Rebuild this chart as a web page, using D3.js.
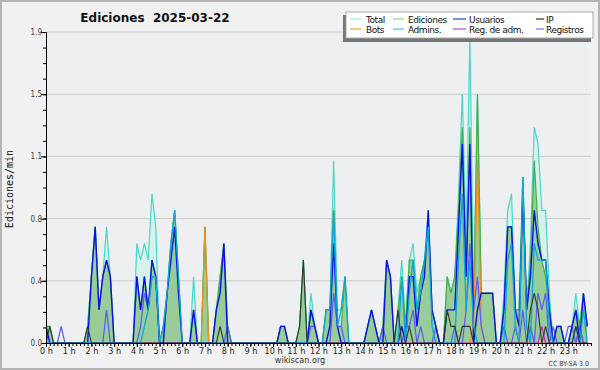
<!DOCTYPE html>
<html>
<head>
<meta charset="utf-8">
<script src="https://cdn.jsdelivr.net/npm/d3@7"></script>
<style>
  body { margin: 0; background: #f1f1f1; }
  svg { display: block; font-family: 'DejaVu Sans Condensed', 'DejaVu Sans', sans-serif; }
</style>
</head>
<body>
<div id="chart"></div>
<script>
// one value per 10 minute slot, edits per minute (6 per hour)
var hourLabels = d3.range(24).map(function (h) { return h + ' h' })
var yTickValues = [0, 0.375, 0.75, 1.125, 1.5, 1.875]
var yTickLabels = ['0.0', '0.4', '0.8', '1.1', '1.5', '1.9']

var total = [
  0.1, 0.1, 0, 0, 0, 0,   0, 0, 0, 0, 0, 0.1,   0.4, 0.7, 0.2, 0.4, 0.7, 0.4,   0, 0, 0, 0, 0, 0,
  0.6, 0.5, 0.6, 0.5, 0.9, 0.7,   0, 0.1, 0.3, 0.6, 0.8, 0.4,   0, 0, 0, 0.4, 0, 0,   0.7, 0, 0, 0.2, 0.4, 0.6,
  0.1, 0, 0, 0, 0, 0,   0, 0, 0, 0, 0, 0,   0, 0, 0.1, 0.1, 0, 0,   0, 0.1, 0.5, 0, 0.3, 0.1,
  0, 0, 0.2, 0.2, 1.1, 0.2,   0.2, 0.4, 0, 0, 0, 0,   0, 0.1, 0.2, 0.1, 0, 0.1,   0.5, 0.4, 0, 0.2, 0.5, 0.1,
  0.5, 0.6, 0.3, 0.4, 0.5, 0.8,   0.2, 0.1, 0, 0, 0.4, 0.3,   0.4, 0.9, 1.5, 0.6, 1.85, 0.2,   1.5, 0.3, 0.3, 0.3, 0.3, 0,
  0, 0.3, 0.8, 0.9, 0.2, 0.2,   1.0, 0.2, 0.6, 1.3, 1.2, 0.8,   0.8, 0.3, 0, 0.1, 0.1, 0,   0, 0.1, 0.3, 0.1, 0.3, 0.1
]
var ediciones = [
  0.1, 0.1, 0, 0, 0, 0,   0, 0, 0, 0, 0, 0.1,   0.4, 0.7, 0.2, 0.4, 0.5, 0.4,   0, 0, 0, 0, 0, 0,
  0.4, 0.2, 0.4, 0.2, 0.5, 0.4,   0, 0.1, 0.3, 0.6, 0.8, 0.4,   0, 0, 0, 0.2, 0, 0,   0.7, 0, 0, 0.2, 0.4, 0.6,
  0.1, 0, 0, 0, 0, 0,   0, 0, 0, 0, 0, 0,   0, 0, 0.1, 0.1, 0, 0,   0, 0.1, 0.5, 0, 0.2, 0.1,
  0, 0, 0.2, 0.2, 0.8, 0.1,   0.1, 0.4, 0, 0, 0, 0,   0, 0.1, 0.2, 0.1, 0, 0.1,   0.5, 0.4, 0, 0.2, 0.4, 0.1,
  0.5, 0.5, 0.2, 0.4, 0.5, 0.7,   0.2, 0.1, 0, 0, 0.4, 0.3,   0.4, 0.8, 1.3, 0.4, 1.3, 0.2,   1.5, 0.3, 0.3, 0.3, 0.3, 0,
  0, 0.2, 0.7, 0.7, 0.2, 0.2,   1.0, 0.2, 0.5, 1.1, 0.7, 0.5,   0.4, 0.2, 0, 0.1, 0.1, 0,   0, 0.1, 0.2, 0.1, 0.3, 0.1
]
var usuarios = [
  0.1, 0, 0, 0, 0, 0,   0, 0, 0, 0, 0, 0,   0.4, 0.7, 0.2, 0.4, 0.5, 0.4,   0, 0, 0, 0, 0, 0,
  0.4, 0.2, 0.4, 0.2, 0.5, 0.4,   0, 0, 0.3, 0.5, 0.7, 0.3,   0, 0, 0, 0.2, 0, 0,   0, 0, 0, 0.2, 0.3, 0.6,
  0, 0, 0, 0, 0, 0,   0, 0, 0, 0, 0, 0,   0, 0, 0.1, 0.1, 0, 0,   0, 0, 0, 0, 0.2, 0.1,
  0, 0, 0, 0.1, 0.6, 0.1,   0, 0, 0, 0, 0, 0,   0, 0.1, 0.2, 0.1, 0, 0,   0.5, 0.4, 0, 0, 0.1, 0,
  0.4, 0.4, 0.1, 0.3, 0.4, 0.8,   0.2, 0.1, 0, 0, 0.2, 0.2,   0.2, 0.7, 1.2, 0.4, 1.2, 0,   0.2, 0.3, 0.3, 0.3, 0.3, 0,
  0, 0.2, 0.7, 0.7, 0.2, 0.1,   0.9, 0.2, 0.4, 0.8, 0.6, 0.5,   0.5, 0.2, 0, 0.1, 0.1, 0,   0, 0.1, 0.2, 0, 0.3, 0.1
]
var ip = [
  0, 0.1, 0, 0, 0, 0,   0, 0, 0, 0, 0, 0.1,   0, 0, 0, 0, 0, 0,   0, 0, 0, 0, 0, 0,
  0, 0, 0, 0, 0, 0,   0, 0, 0, 0, 0, 0,   0, 0, 0, 0, 0, 0,   0, 0, 0, 0, 0.1, 0,
  0, 0, 0, 0, 0, 0,   0, 0, 0, 0, 0, 0,   0, 0, 0, 0, 0, 0,   0, 0.1, 0.5, 0, 0, 0,
  0, 0, 0, 0, 0, 0,   0, 0, 0, 0, 0, 0,   0, 0, 0, 0, 0, 0,   0, 0, 0, 0.2, 0, 0,
  0.1, 0, 0, 0, 0, 0,   0, 0, 0, 0, 0.2, 0.1,   0.1, 0, 0.1, 0.1, 0.1, 0,   0, 0, 0, 0, 0, 0,
  0, 0, 0, 0, 0, 0,   0, 0, 0.2, 0.3, 0.2, 0,   0.1, 0, 0, 0, 0, 0,   0, 0, 0.1, 0, 0, 0
]
var bots = [
  0, 0, 0, 0, 0, 0,   0, 0, 0, 0, 0, 0,   0, 0, 0, 0, 0, 0,   0, 0, 0, 0, 0, 0,
  0, 0, 0, 0, 0, 0,   0, 0, 0, 0, 0, 0,   0, 0, 0, 0, 0, 0,   0.7, 0, 0, 0, 0, 0,
  0, 0, 0, 0, 0, 0,   0, 0, 0, 0, 0, 0,   0, 0, 0, 0, 0, 0,   0, 0, 0, 0, 0, 0,
  0, 0, 0, 0, 0, 0,   0, 0, 0, 0, 0, 0,   0, 0, 0, 0, 0, 0,   0, 0, 0, 0, 0, 0,
  0, 0, 0, 0, 0, 0,   0, 0, 0, 0, 0, 0,   0, 0, 0, 0, 0, 0.1,   1.1, 0.1, 0, 0, 0, 0,
  0, 0, 0, 0, 0, 0,   0, 0, 0, 0, 0, 0,   0, 0, 0, 0, 0, 0,   0, 0, 0, 0, 0, 0
]
var admins = [
  0, 0, 0, 0, 0, 0,   0, 0, 0, 0, 0, 0,   0, 0, 0, 0, 0, 0,   0, 0, 0, 0, 0, 0,
  0, 0, 0.1, 0.2, 0.4, 0.4,   0, 0.1, 0.3, 0.6, 0.8, 0.4,   0, 0, 0, 0, 0, 0,   0, 0, 0, 0, 0, 0,
  0, 0, 0, 0, 0, 0,   0, 0, 0, 0, 0, 0,   0, 0, 0, 0, 0, 0,   0, 0, 0, 0, 0, 0,
  0, 0, 0.2, 0.2, 0.8, 0.1,   0.2, 0.4, 0, 0, 0, 0,   0, 0, 0, 0, 0, 0,   0, 0, 0, 0, 0.4, 0,
  0.3, 0.5, 0.2, 0.3, 0.5, 0.7,   0.1, 0, 0, 0, 0, 0,   0, 0.5, 0.9, 0.2, 0.5, 0.1,   0, 0, 0, 0, 0, 0,
  0, 0, 0.5, 0.6, 0.1, 0,   1.0, 0.1, 0, 0.6, 0.5, 0.5,   0.5, 0.1, 0, 0, 0, 0,   0, 0, 0.1, 0, 0.2, 0
]
var regAdm = [
  0, 0, 0, 0, 0, 0,   0, 0, 0, 0, 0, 0,   0, 0, 0, 0, 0, 0,   0, 0, 0, 0, 0, 0,
  0, 0, 0, 0, 0, 0,   0, 0, 0, 0, 0, 0,   0, 0, 0, 0, 0, 0,   0, 0, 0, 0, 0, 0,
  0, 0, 0, 0, 0, 0,   0, 0, 0, 0, 0, 0,   0, 0, 0, 0, 0, 0,   0, 0, 0, 0, 0, 0,
  0, 0, 0, 0, 0, 0,   0, 0, 0, 0, 0, 0,   0, 0, 0, 0, 0, 0,   0, 0, 0, 0, 0, 0,
  0, 0, 0, 0, 0, 0,   0, 0, 0, 0, 0, 0,   0, 0, 0, 0, 0, 0,   0, 0, 0, 0, 0, 0,
  0, 0, 0, 0, 0, 0,   0, 0, 0, 0, 0, 0.1,   0, 0, 0, 0, 0, 0,   0, 0, 0, 0.1, 0, 0
]
var registros = [
  0, 0, 0, 0, 0.1, 0,   0, 0, 0, 0, 0, 0,   0, 0, 0, 0, 0.2, 0,   0, 0, 0, 0, 0, 0,
  0, 0.1, 0.3, 0.2, 0.4, 0.4,   0, 0, 0, 0, 0, 0,   0, 0, 0, 0, 0, 0,   0, 0, 0, 0, 0, 0,
  0.1, 0, 0, 0, 0, 0,   0, 0, 0, 0, 0, 0,   0, 0, 0, 0, 0, 0,   0, 0, 0, 0, 0.1, 0.1,
  0, 0, 0, 0, 0.3, 0.1,   0.1, 0, 0, 0, 0, 0,   0, 0, 0, 0, 0, 0.1,   0, 0, 0, 0, 0, 0.1,
  0.1, 0.2, 0, 0.1, 0, 0,   0, 0.1, 0, 0, 0, 0,   0.1, 0, 0, 0.2, 0.6, 0.2,   0.4, 0.1, 0, 0, 0, 0,
  0, 0.1, 0, 0, 0.1, 0,   0.2, 0, 0.1, 0, 0.3, 0.2,   0.3, 0, 0.1, 0, 0, 0,   0.1, 0.1, 0, 0.1, 0, 0
]

var legendNames = ['Total', 'Ediciones', 'Usuarios', 'IP', 'Bots', 'Admins.', 'Reg. de adm.', 'Registros']
var legendColors = ['#a8e8e0', '#8fd08f', '#3a3ae0', '#303030', '#f0a040', '#40c8e0', '#d040e0', '#7474f4']

var width = 600
var height = 370
var margin = {left: 46, right: 9, top: 32, bottom: 27}
var plotW = width - margin.left - margin.right
var plotH = height - margin.top - margin.bottom

var xScale = d3.scaleLinear().domain([0, 144]).range([0, plotW])
var yScale = d3.scaleLinear().domain([0, 1.875]).range([plotH, 0])

var svg = d3.select('#chart').append('svg')
  .attr('width', width)
  .attr('height', height)

svg.append('rect')
  .attr('x', 1).attr('y', 1)
  .attr('width', width - 2).attr('height', height - 2)
  .attr('fill', '#f1f1f1')
  .attr('stroke', '#b4b4b4')
  .attr('stroke-width', 2)

svg.append('defs').append('clipPath')
  .attr('id', 'plotClip')
  .append('rect')
  .attr('y', -2)
  .attr('width', plotW)
  .attr('height', plotH + 2)

// title and labels
svg.append('text')
  .attr('x', 155).attr('y', 22)
  .attr('text-anchor', 'middle')
  .attr('font-family', 'DejaVu Sans')
  .attr('font-weight', 'bold')
  .attr('font-size', 12)
  .attr('fill', '#111')
  .attr('xml:space', 'preserve')
  .text('Ediciones  2025-03-22')

svg.append('text')
  .attr('transform', 'translate(13,189) rotate(-90)')
  .attr('text-anchor', 'middle')
  .attr('font-family', 'DejaVu Sans Mono')
  .attr('font-size', 10)
  .attr('fill', '#111')
  .text('Ediciones/min')

svg.append('text')
  .attr('x', 300).attr('y', 363)
  .attr('text-anchor', 'middle')
  .attr('font-size', 9)
  .attr('fill', '#333')
  .text('wikiscan.org')

svg.append('text')
  .attr('x', 589).attr('y', 366)
  .attr('text-anchor', 'end')
  .attr('font-size', 7)
  .attr('fill', '#444')
  .text('CC BY-SA 3.0')

var chart = svg.append('g')
  .attr('transform', 'translate(' + margin.left + ',' + margin.top + ')')

chart.append('rect')
  .attr('width', plotW)
  .attr('height', plotH)
  .attr('fill', '#eeeff1')

chart.append('g')
  .selectAll('line')
  .data(yTickValues.slice(1))
  .enter()
  .append('line')
  .attr('x1', 0).attr('x2', plotW)
  .attr('y1', function (d) { return yScale(d) })
  .attr('y2', function (d) { return yScale(d) })
  .attr('stroke', '#cdcdcd')

var area = function (values) {
  return d3.area()
    .x(function (d, i) { return xScale(i) })
    .y0(plotH)
    .y1(function (d) { return yScale(d) })(values)
}
var line = function (values) {
  return d3.line()
    .x(function (d, i) { return xScale(i) })
    .y(function (d) { return yScale(d) })(values)
}

var marks = chart.append('g').attr('clip-path', 'url(#plotClip)')

marks.append('path').attr('d', area(total)).attr('fill', '#d6f2ed')
marks.append('path').attr('d', area(ediciones)).attr('fill', '#98cc98')

var series = [
  {values: total, color: '#48d8c8', width: 1.2},
  {values: ediciones, color: '#44b044', width: 1.2},
  {values: bots, color: '#f09018', width: 1.2},
  {values: regAdm, color: '#d020d8', width: 1.2},
  {values: registros, color: '#5a5af6', width: 1.2},
  {values: usuarios, color: '#0a10e6', width: 1.4},
  {values: admins, color: '#0aa8d8', width: 1.3},
  {values: ip, color: '#333333', width: 1.1}
]

marks.selectAll('.serie')
  .data(series)
  .enter()
  .append('path')
  .attr('class', 'serie')
  .attr('d', function (d) { return line(d.values) })
  .attr('fill', 'none')
  .attr('stroke', function (d) { return d.color })
  .attr('stroke-width', function (d) { return d.width })
  .attr('stroke-linejoin', 'miter')

// axes
var xMinor = d3.axisBottom(xScale).tickValues(d3.range(0, 145)).tickSize(3).tickSizeOuter(0).tickFormat('')
var xMajor = d3.axisBottom(xScale).tickValues(d3.range(0, 144, 6)).tickSize(4).tickSizeOuter(0)
  .tickFormat(function (d) { return hourLabels[d / 6] })
var yMinor = d3.axisLeft(yScale).tickValues(d3.range(0, 1.876, 0.375 / 4)).tickSize(3).tickSizeOuter(0).tickFormat('')
var yMajor = d3.axisLeft(yScale).tickValues(yTickValues).tickSize(5).tickSizeOuter(0)
  .tickFormat(function (d, i) { return yTickLabels[i] })

var styleAxis = function (g, size, color) {
  g.attr('font-family', null).attr('font-size', size)
  g.selectAll('path, line').attr('stroke', '#000')
  g.selectAll('text').attr('fill', color)
}

chart.append('g').attr('transform', 'translate(0,' + plotH + ')').call(xMinor).call(styleAxis, 9, '#222')
chart.append('g').attr('transform', 'translate(0,' + plotH + ')').call(xMajor).call(styleAxis, 9, '#222')
  .selectAll('text').attr('dy', '0.62em').attr('y', 5)
chart.append('g').call(yMinor).call(styleAxis, 8, '#444')
chart.append('g').call(yMajor).call(styleAxis, 8, '#444')
  .selectAll('text').attr('x', -4)

// legend
var legend = svg.append('g')
var legendCols = [350, 393, 453, 536]
legend.append('rect')
  .attr('x', 343).attr('y', 15).attr('width', 248).attr('height', 27)
  .attr('fill', '#757575')
legend.append('rect')
  .attr('x', 346).attr('y', 12).attr('width', 247).attr('height', 26)
  .attr('fill', '#fff')
  .attr('stroke', '#a8a8a8')

var items = legend.selectAll('.item')
  .data(legendNames)
  .enter()
  .append('g')
  .attr('class', 'item')
  .attr('transform', function (d, i) {
    return 'translate(' + legendCols[i % 4] + ',' + (i < 4 ? 19 : 29) + ')'
  })
items.append('line')
  .attr('x1', 0).attr('x2', function (d, i) { return [11, 11, 13, 8][i % 4] })
  .attr('stroke', function (d, i) { return legendColors[i] })
  .attr('stroke-width', 1.2)
items.append('text')
  .attr('x', function (d, i) { return [16, 15, 16, 10][i % 4] })
  .attr('y', 3.5)
  .attr('font-family', 'DejaVu Sans')
  .attr('font-size', 9)
  .attr('letter-spacing', -0.45)
  .attr('fill', '#111')
  .text(function (d) { return d })
</script>
</body>
</html>
